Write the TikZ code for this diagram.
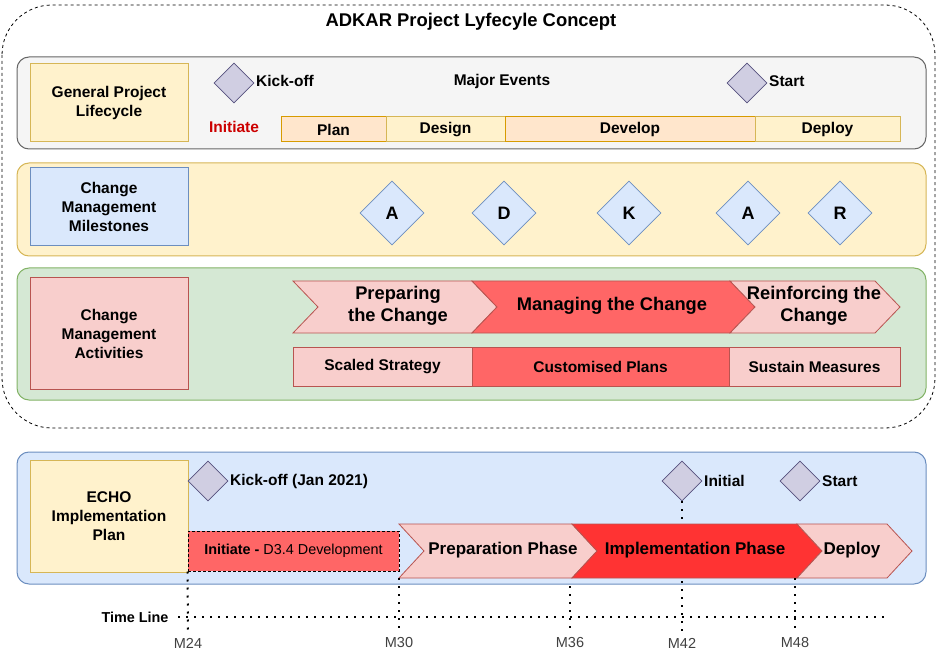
\documentclass[tikz,border=0pt]{standalone}
\usepackage{fontspec}
\setmainfont{Liberation Sans}
\usetikzlibrary{shapes.geometric}
\definecolor{grayF}{HTML}{F5F5F5}
\definecolor{grayS}{HTML}{666666}
\definecolor{yelF}{HTML}{FFF2CC}
\definecolor{yelS}{HTML}{D6B656}
\definecolor{orgF}{HTML}{FFE6CC}
\definecolor{orgS}{HTML}{D79B00}
\definecolor{bluF}{HTML}{DAE8FC}
\definecolor{bluS}{HTML}{6C8EBF}
\definecolor{grnF}{HTML}{D5E8D4}
\definecolor{grnS}{HTML}{82B366}
\definecolor{pnkF}{HTML}{F8CECC}
\definecolor{pnkS}{HTML}{B85450}
\definecolor{redF}{HTML}{FF6666}
\definecolor{red2F}{HTML}{FF3333}
\definecolor{purF}{HTML}{D0CEE2}
\definecolor{purS}{HTML}{56517E}
\definecolor{initRed}{HTML}{CC0000}
\tikzset{
  lane/.style={rounded corners=12pt, line width=1pt},
  labelbox/.style={line width=1pt, align=center, font=\fontsize{15.5}{19}\selectfont\bfseries},
  evt/.style={diamond, draw=purS, fill=purF, line width=0.8pt, minimum width=40pt, minimum height=40pt, inner sep=0pt},
  mile/.style={diamond, draw=bluS, fill=bluF, line width=0.8pt, minimum width=64pt, minimum height=64pt, inner sep=0pt, font=\fontsize{18}{20}\selectfont\bfseries},
  txt/.style={inner sep=0pt, font=\fontsize{15.5}{18}\selectfont\bfseries},
  big/.style={inner sep=0pt, align=center, font=\fontsize{18.3}{22}\selectfont\bfseries},
  phase/.style={line width=1pt, font=\fontsize{15.5}{18}\selectfont\bfseries},
  chevline/.style={draw=pnkS, line width=0.8pt},
  tl/.style={line width=2pt, dash pattern=on 2pt off 6pt},
  mlab/.style={inner sep=0pt, font=\fontsize{14.5}{17}\selectfont, text=black!75},
}
\begin{document}
\begin{tikzpicture}[x=1pt,y=-1pt]
\useasboundingbox (0,0) rectangle (937,652);
% outer dashed frame
\draw[dash pattern=on 3pt off 3pt, line width=0.8pt, rounded corners=50pt] (2,5) rectangle (935,428);
\node[inner sep=0pt, font=\fontsize{18.4}{22}\selectfont\bfseries] (title) at (471,22) {ADKAR Project Lyfecyle Concept};

% ---------- lane 1
\draw[lane, draw=grayS, fill=grayF] (17,57) rectangle (926,149);
\node[labelbox, draw=yelS, fill=yelF, minimum width=158pt, minimum height=78pt] (gpl) at (109,103) {General Project\\Lifecycle};
\node[evt] (ko1) at (234,83) {};
\node[txt, anchor=west] (ko1t) at (256,81) {Kick-off};
\node[txt] (major) at (502,81) {Major Events};
\node[evt] (st1) at (747,83) {};
\node[txt, anchor=west] (st1t) at (769,81) {Start};
\node[txt, text=initRed] (init) at (234,127) {Initiate};
\node[phase, draw=orgS, fill=orgF, minimum width=105pt, minimum height=25pt, inner sep=0pt] (plan) at (333.5,129.5) {Plan};
\node[phase, draw=yelS, fill=yelF, minimum width=119pt, minimum height=25pt, inner sep=0pt] (design) at (445.5,129.5) {Design};
\node[phase, draw=orgS, fill=orgF, minimum width=250pt, minimum height=25pt, inner sep=0pt] (develop) at (630,129.5) {Develop};
\node[phase, draw=yelS, fill=yelF, minimum width=145pt, minimum height=25pt, inner sep=0pt] (deploy1) at (827.5,129.5) {Deploy};

% ---------- lane 2
\draw[lane, draw=yelS, fill=yelF] (17,163) rectangle (926,256);
\node[labelbox, draw=bluS, fill=bluF, minimum width=158pt, minimum height=78pt] (cmm) at (109,207) {Change\\Management\\Milestones};
\node[mile] (mA) at (392,213) {A};
\node[mile] (mD) at (504,213) {D};
\node[mile] (mK) at (629,213) {K};
\node[mile] (mA2) at (748,213) {A};
\node[mile] (mR) at (840,213) {R};

% ---------- lane 3
\draw[lane, draw=grnS, fill=grnF] (17,268) rectangle (926,400);
\node[labelbox, draw=pnkS, fill=pnkF, minimum width=158pt, minimum height=111pt] (cma) at (109,333.5) {Change\\Management\\Activities};
\draw[chevline, fill=pnkF] (293,281) -- (472,281) -- (497,307) -- (472,333) -- (293,333) -- (318,307) -- cycle;
\draw[chevline, fill=redF] (472,281) -- (730,281) -- (755,307) -- (730,333) -- (472,333) -- (497,307) -- cycle;
\draw[chevline, fill=pnkF] (730,281) -- (875,281) -- (900,307) -- (875,333) -- (730,333) -- (755,307) -- cycle;
\node[big] (prep) at (398,306) {Preparing\\the Change};
\node[big] (manage) at (612,306) {Managing the Change};
\node[big] (reinf) at (814,306) {Reinforcing the\\Change};
\node[phase, draw=pnkS, fill=pnkF, minimum width=179pt, minimum height=39pt, inner sep=0pt] (scaled) at (382.5,366.5) {Scaled Strategy};
\node[phase, draw=pnkS, fill=redF, minimum width=257pt, minimum height=39pt, inner sep=0pt] (cust) at (600.5,366.5) {Customised Plans};
\node[phase, draw=pnkS, fill=pnkF, minimum width=171pt, minimum height=39pt, inner sep=0pt] (sustain) at (814.5,366.5) {Sustain Measures};

% ---------- lane 4
\draw[lane, draw=bluS, fill=bluF] (17,452) rectangle (926,584);
\node[labelbox, draw=yelS, fill=yelF, minimum width=158pt, minimum height=112pt] (echo) at (109,516) {ECHO\\Implementation\\Plan};
\node[evt] (ko2) at (208,481) {};
\node[txt, anchor=west] (ko2t) at (230,481) {Kick-off (Jan 2021)};
\node[evt] (ini) at (682,481) {};
\node[txt, anchor=west] (init2) at (704,481) {Initial};
\node[evt] (st2) at (800,481) {};
\node[txt, anchor=west] (st2t) at (822,481) {Start};

% ---------- time line (drawn below the chevrons)
\node[inner sep=0pt, font=\fontsize{14.4}{17}\selectfont\bfseries] (tlt) at (135,617) {Time Line};
\coordinate (tlS) at (178,617);
\coordinate (tlE) at (888,617);
\draw[tl] (tlS) -- (tlE);
\node[mlab] (m24) at (188,643) {M24};
\node[mlab] (m30) at (399,643) {M30};
\node[mlab] (m36) at (570,643) {M36};
\node[mlab] (m42) at (682,643) {M42};
\node[mlab] (m48) at (795,643) {M48};
\draw[tl] (ini.south) -- ([yshift=6pt]m42.north);

\node[draw=black, fill=redF, dash pattern=on 3pt off 2pt, line width=1pt, minimum width=211pt, minimum height=40pt, inner sep=0pt,
      font=\fontsize{14.4}{17}\selectfont] (initd) at (293.5,551) {\textbf{Initiate -} D3.4 Development};
\draw[chevline, fill=pnkF] (399,524) -- (572,524) -- (597,551) -- (572,578) -- (399,578) -- (424,551) -- cycle;
\draw[chevline, fill=red2F] (572,524) -- (797,524) -- (822,551) -- (797,578) -- (572,578) -- (597,551) -- cycle;
\draw[chevline, fill=pnkF] (797,524) -- (887,524) -- (912,551) -- (887,578) -- (797,578) -- (822,551) -- cycle;
\node[big, font=\fontsize{17}{20}\selectfont\bfseries] (prepph) at (503,550) {Preparation Phase};
\node[big, font=\fontsize{17}{20}\selectfont\bfseries] (implph) at (695,550) {Implementation Phase};
\node[big, font=\fontsize{17}{20}\selectfont\bfseries] (depl2) at (852,550) {Deploy};

\draw[tl] (initd.south west) -- ([yshift=6pt]m24.north);
\draw[tl] (399,578) -- ([yshift=6pt]m30.north);
\draw[tl] (570,586) -- ([yshift=6pt]m36.north);
\draw[tl] (795,578) -- ([yshift=6pt]m48.north);
\end{tikzpicture}
\end{document}
